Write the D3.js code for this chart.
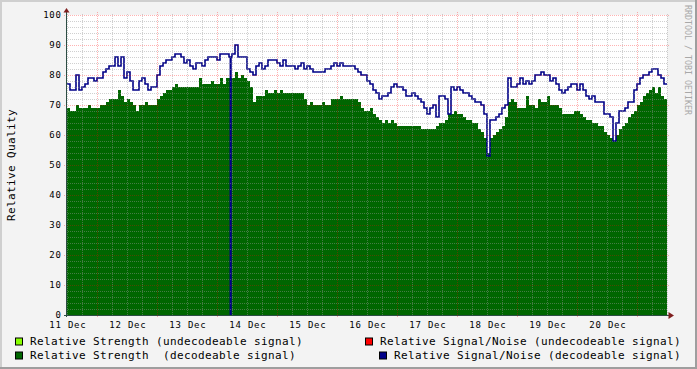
<!DOCTYPE html>
<html><head><meta charset="utf-8">
<script src="https://cdn.jsdelivr.net/npm/d3@7/dist/d3.min.js"></script>
<style>html,body{margin:0;padding:0;background:#f3f3f3;} svg{display:block;}</style>
</head><body><svg id="c" width="697" height="369"></svg>
<script>
// ---- data ----
const startTime = new Date(2023, 11, 11, 0, 0);
const endTime = new Date(2023, 11, 21, 0, 0);
const stepMinutes = 72;
const dayLabels = ["11 Dec","12 Dec","13 Dec","14 Dec","15 Dec","16 Dec","17 Dec","18 Dec","19 Dec","20 Dec"];
const yTickValues = [0,10,20,30,40,50,60,70,80,90,100];
const strengthDecodeable = [
  69,68,68,70,69,69,69,70,69,69,
  69,70,70,71,72,72,72,75,73,71,
  72,71,70,68,70,70,71,70,70,70,
  72,73,74,75,75,76,77,76,76,76,
  76,76,76,76,79,77,77,77,78,77,
  77,79,77,79,79,79,81,79,80,79,
  78,76,71,73,73,73,75,74,74,75,
  74,75,74,74,74,74,74,74,74,72,
  70,71,70,70,70,71,70,70,72,72,
  72,73,72,72,72,72,72,71,69,68,
  68,69,67,66,65,64,65,64,65,64,
  63,63,63,63,63,63,63,63,62,62,
  62,62,62,63,64,64,65,67,67,68,
  67,67,66,65,65,64,64,62,61,59,
  54,59,60,61,62,63,66,71,72,71,
  69,69,69,73,70,70,69,72,71,71,
  73,70,70,70,69,67,67,67,67,68,
  68,67,66,65,65,64,64,63,63,61,
  60,59,58,60,62,63,64,66,67,68,
  70,71,73,74,75,76,74,76,73,72
];
const snrDecodeable = [
  77,75,75,80,75,76,77,79,79,78,
  79,79,81,82,83,83,86,83,86,79,
  81,78,75,75,78,79,77,75,76,76,
  80,83,84,85,85,86,87,87,86,84,
  85,83,82,84,84,83,85,86,86,86,
  85,87,87,87,86,87,90,86,86,86,
  82,81,80,83,84,82,83,85,85,85,
  84,83,85,83,83,83,82,83,84,82,
  83,82,81,81,81,81,82,82,83,84,
  83,84,83,83,83,83,82,81,80,80,
  78,77,75,74,72,73,73,74,76,77,
  76,76,75,73,73,74,73,72,71,69,
  67,69,70,66,73,73,72,67,76,75,
  76,75,74,74,73,72,71,71,70,67,
  53,65,65,66,67,69,70,79,76,76,
  77,79,77,78,77,78,80,80,81,80,
  80,78,79,77,75,74,75,76,77,77,
  75,77,75,73,72,73,71,71,71,67,
  67,66,58,64,68,68,69,71,71,75,
  77,79,80,80,81,82,82,80,79,77
];
// brief S/N dropouts to zero (single sample)
const snrDropouts = [new Date(2023, 11, 13, 17, 28)];
const legendLabels = [
  "Relative Strength (undecodeable signal)",
  "Relative Signal/Noise (undecodeable signal)",
  "Relative Strength  (decodeable signal)",
  "Relative Signal/Noise (decodeable signal)"
];
const yAxisTitle = "Relative Quality";
const watermark = "RRDTOOL / TOBI OETIKER";

// ---- styles ----
const C = {
  back: "#f3f3f3", canvas: "#ffffff", shadeA: "#cfcfcf", shadeB: "#9e9e9e",
  strength: "#006600", snr: "#000088", lightGreen: "#88ff00", red: "#ff0000",
  axis: "#2c4d43", arrow: "#7f1f1f", font: "#000000",
  grid: "rgba(150,150,150,0.45)", mgrid: "rgba(255,0,0,0.3)"
};
const legendColors = [C.lightGreen, C.red, C.strength, C.snr];
const FONT = "'DejaVu Sans Mono', monospace";

const svg = d3.select("#c");
const W = 697, H = 369;
const X0 = 67, X1 = 667, Y0 = 315, Y1 = 15;

svg.append("rect").attr("width", W).attr("height", H).attr("fill", C.back);
// 3D border
svg.append("rect").attr("x",0).attr("y",0).attr("width",W).attr("height",2).attr("fill",C.shadeA);
svg.append("rect").attr("x",0).attr("y",0).attr("width",2).attr("height",H).attr("fill",C.shadeA);
svg.append("rect").attr("x",0).attr("y",H-2).attr("width",W).attr("height",2).attr("fill",C.shadeB);
svg.append("rect").attr("x",W-2).attr("y",0).attr("width",2).attr("height",H).attr("fill",C.shadeB);

const x = d3.scaleTime().domain([startTime, endTime]).range([X0, X1]);
const y = d3.scaleLinear().domain([0, 100]).range([Y0, Y1]);

svg.append("rect").attr("x", X0).attr("y", Y1).attr("width", X1 - X0).attr("height", Y0 - Y1).attr("fill", C.canvas);

const tAt = i => new Date(startTime.getTime() + i * stepMinutes * 60000);
const toPts = arr => {
  const p = arr.map((v, i) => ({ t: tAt(i), v }));
  p.push({ t: tAt(arr.length), v: arr[arr.length - 1] });
  return p;
};

const area = d3.area().x(d => x(d.t)).y0(y(0)).y1(d => y(d.v)).curve(d3.curveStepAfter);
svg.append("path").datum(toPts(strengthDecodeable)).attr("d", area)
  .attr("fill", C.strength).attr("shape-rendering", "crispEdges");

const line = d3.line().x(d => x(d.t)).y(d => y(d.v)).curve(d3.curveStepAfter);
svg.append("path").datum(toPts(snrDecodeable)).attr("d", line)
  .attr("fill", "none").attr("stroke", C.snr).attr("stroke-width", 1.6);

// dropouts
snrDropouts.forEach(t => {
  const idx = Math.floor((t - startTime) / (stepMinutes * 60000));
  svg.append("line").attr("x1", x(t)).attr("x2", x(t))
    .attr("y1", y(0)).attr("y2", y(snrDecodeable[idx]))
    .attr("stroke", C.snr).attr("stroke-width", 2.2);
});

// grid
const g = svg.append("g").attr("shape-rendering", "crispEdges");
for (let v = 0; v <= 100; v += 2) {
  if (v % 10 === 0) continue;
  g.append("line").attr("x1", X0 - 1).attr("x2", X1 + 1).attr("y1", y(v) + 0.5).attr("y2", y(v) + 0.5)
    .attr("stroke", C.grid).attr("stroke-dasharray", "1,1");
}
const hours = d3.timeHour.every(6).range(startTime, d3.timeMinute.offset(endTime, 1));
hours.forEach(t => {
  if (t.getHours() === 12) return;
  g.append("line").attr("x1", x(t) + 0.5).attr("x2", x(t) + 0.5).attr("y1", Y1 - 1).attr("y2", Y0 + 1)
    .attr("stroke", C.grid).attr("stroke-dasharray", "1,1");
});
yTickValues.forEach(v => {
  g.append("line").attr("x1", X0 - 3).attr("x2", X1 + 3).attr("y1", y(v) + 0.5).attr("y2", y(v) + 0.5)
    .attr("stroke", C.mgrid).attr("stroke-dasharray", "1,1");
});
hours.forEach(t => {
  if (t.getHours() !== 12) return;
  g.append("line").attr("x1", x(t) + 0.5).attr("x2", x(t) + 0.5).attr("y1", Y1 - 3).attr("y2", Y0 + 3)
    .attr("stroke", C.mgrid).attr("stroke-dasharray", "1,1");
});

// axes
g.append("line").attr("x1", X0 - 0.5).attr("x2", X0 - 0.5).attr("y1", Y0 + 2).attr("y2", Y1 - 4).attr("stroke", C.axis);
g.append("line").attr("x1", X0 - 3).attr("x2", X1 + 4).attr("y1", Y0 + 0.5).attr("y2", Y0 + 0.5).attr("stroke", C.axis);
svg.append("path").attr("d", `M${X0-3.5},${Y1-2.5}L${X0+2.5},${Y1-2.5}L${X0-0.5},${Y1-7}Z`).attr("fill", C.arrow);
svg.append("path").attr("d", `M${X1+1.5},${Y0-3}L${X1+1.5},${Y0+4}L${X1+7},${Y0+0.5}Z`).attr("fill", C.arrow);

// tick labels
const yl = svg.append("g").attr("font-family", FONT).attr("font-size", "9px").attr("letter-spacing", "0.8px").attr("fill", C.font);
yTickValues.forEach(v => {
  yl.append("text").attr("x", 61.8).attr("y", y(v) + 2.6).attr("text-anchor", "end").text(v);
});
dayLabels.forEach((lab, i) => {
  const t = d3.timeDay.offset(startTime, i);
  yl.append("text").attr("x", x(t) + 0.9).attr("y", 328.2).attr("text-anchor", "middle").text(lab);
});

// y title
svg.append("text").attr("transform", `translate(14.5,${(Y0 + Y1) / 2}) rotate(-90)`)
  .attr("text-anchor", "middle").attr("font-family", FONT).attr("font-size", "11px").attr("letter-spacing", "0.38px")
  .attr("fill", C.font).text(yAxisTitle);

// watermark
svg.append("text").attr("transform", `translate(685,5) rotate(90)`)
  .attr("font-family", FONT).attr("font-size", "8.3px").attr("fill", "#a8a8a8").text(watermark);

// legend
const legPos = [
  { bx: 15, tx: 30, row: 0 }, { bx: 365, tx: 380, row: 0 },
  { bx: 15, tx: 30, row: 1 }, { bx: 379, tx: 394, row: 1 }
];
const lg = svg.append("g").attr("font-family", FONT).attr("font-size", "11px").attr("letter-spacing", "0.38px").attr("fill", C.font);
legendLabels.forEach((lab, i) => {
  const p = legPos[i];
  const by = 337.5 + p.row * 14;
  lg.append("rect").attr("x", p.bx + 0.5).attr("y", by + 0.5).attr("width", 7).attr("height", 7)
    .attr("fill", legendColors[i]).attr("stroke", "#000").attr("stroke-width", 1);
  lg.append("text").attr("x", p.tx).attr("y", by + 7.8).attr("xml:space", "preserve").style("white-space", "pre").text(lab);
});
</script>
</body></html>
